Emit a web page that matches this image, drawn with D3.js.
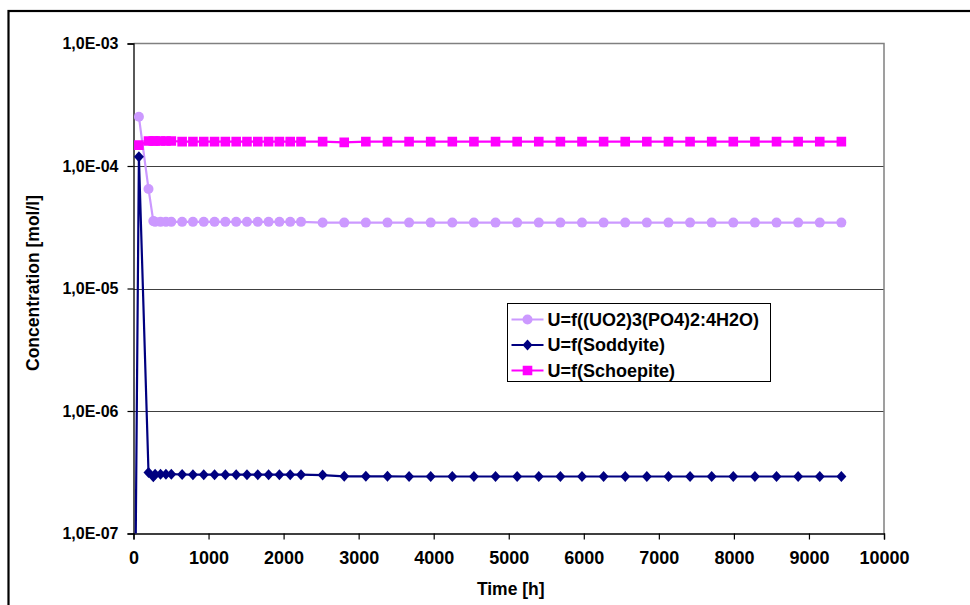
<!DOCTYPE html>
<html>
<head>
<meta charset="utf-8">
<script src="https://cdn.jsdelivr.net/npm/d3@7"></script>
<style>
  html, body { margin: 0; padding: 0; background: #fff; }
  svg { display: block; font-family: "Liberation Sans", Arial, sans-serif; }
</style>
</head>
<body>
<svg id="chart" width="970" height="605"></svg>
<script>
// Sampling times [h]
const times = [0, 72, 200, 264, 288, 360, 432, 504, 648, 792, 936, 1080, 1224, 1368, 1512, 1656,
  1800, 1944, 2088, 2232, 2520, 2808, 3096, 3384, 3672, 3960, 4248, 4536, 4824, 5112, 5400,
  5688, 5976, 6264, 6552, 6840, 7128, 7416, 7704, 7992, 8280, 8568, 8856, 9144, 9432];

// U concentration [mol/l] controlled by each solid phase
const uPhosphate = [null, 2.52e-4, 6.5e-5, 3.55e-5, 3.5e-5, 3.5e-5, 3.5e-5, 3.5e-5, 3.5e-5, 3.5e-5,
  3.5e-5, 3.5e-5, 3.5e-5, 3.5e-5, 3.5e-5, 3.5e-5, 3.5e-5, 3.5e-5, 3.5e-5, 3.5e-5, 3.45e-5,
  3.45e-5, 3.45e-5, 3.45e-5, 3.45e-5, 3.45e-5, 3.45e-5, 3.45e-5, 3.45e-5, 3.45e-5, 3.45e-5,
  3.45e-5, 3.45e-5, 3.45e-5, 3.45e-5, 3.45e-5, 3.45e-5, 3.45e-5, 3.45e-5, 3.45e-5, 3.45e-5,
  3.45e-5, 3.45e-5, 3.45e-5, 3.45e-5];
const uSoddyite = [6e-10, 1.19e-4, 3.15e-7, 2.9e-7, 3.05e-7, 3.05e-7, 3.05e-7, 3.05e-7, 3.03e-7, 3.02e-7,
  3.02e-7, 3.02e-7, 3.02e-7, 3.02e-7, 3.02e-7, 3.02e-7, 3.02e-7, 3.02e-7, 3.02e-7, 3.02e-7, 3.0e-7,
  2.93e-7, 2.93e-7, 2.93e-7, 2.92e-7, 2.92e-7, 2.92e-7, 2.92e-7, 2.92e-7, 2.92e-7, 2.92e-7,
  2.92e-7, 2.92e-7, 2.92e-7, 2.92e-7, 2.92e-7, 2.92e-7, 2.92e-7, 2.92e-7, 2.92e-7, 2.92e-7,
  2.92e-7, 2.92e-7, 2.92e-7, 2.92e-7];
const uSchoepite = [null, 1.48e-4, 1.6e-4, 1.6e-4, 1.6e-4, 1.6e-4, 1.6e-4, 1.6e-4, 1.58e-4, 1.58e-4,
  1.58e-4, 1.58e-4, 1.58e-4, 1.58e-4, 1.58e-4, 1.58e-4, 1.58e-4, 1.58e-4, 1.58e-4, 1.58e-4, 1.58e-4,
  1.56e-4, 1.58e-4, 1.58e-4, 1.58e-4, 1.58e-4, 1.58e-4, 1.58e-4, 1.58e-4, 1.58e-4, 1.58e-4,
  1.58e-4, 1.58e-4, 1.58e-4, 1.58e-4, 1.58e-4, 1.58e-4, 1.58e-4, 1.58e-4, 1.58e-4, 1.58e-4,
  1.58e-4, 1.58e-4, 1.58e-4, 1.58e-4];

const seriesNames = ["U=f((UO2)3(PO4)2:4H2O)", "U=f(Soddyite)", "U=f(Schoepite)"];
const seriesValues = [uPhosphate, uSoddyite, uSchoepite];
const seriesColors = ["#CC99FF", "#000080", "#FF00FF"];
const seriesMarkers = ["circle", "diamond", "square"];

const xTicks = [0, 1000, 2000, 3000, 4000, 5000, 6000, 7000, 8000, 9000, 10000];
const yTicks = [1e-7, 1e-6, 1e-5, 1e-4, 1e-3];
const yTickLabels = ["1,0E-07", "1,0E-06", "1,0E-05", "1,0E-04", "1,0E-03"];

const svg = d3.select("#chart");
const plot = { left: 133.5, top: 43.5, right: 884, bottom: 533.5 };

const x = d3.scaleLinear().domain([0, 10000]).range([plot.left, plot.right]);
const y = d3.scaleLog().domain([1e-7, 1e-3]).range([plot.bottom, plot.top]);

// Outer chart frame
svg.append("rect").attr("x", 8.5).attr("y", 11).attr("width", 1000).attr("height", 700)
  .attr("fill", "none").attr("stroke", "#000").attr("stroke-width", 2.2);

// Horizontal gridlines at each decade
svg.append("g").selectAll("line").data(yTicks.slice(1, -1)).join("line")
  .attr("x1", plot.left).attr("x2", plot.right)
  .attr("y1", d => Math.round(y(d)) + 0.5).attr("y2", d => Math.round(y(d)) + 0.5)
  .attr("stroke", "#404040").attr("stroke-width", 1.2);

// Plot area top and right border
svg.append("path")
  .attr("d", `M${plot.left},${plot.top}H${plot.right}V${plot.bottom}`)
  .attr("fill", "none").attr("stroke", "#808080").attr("stroke-width", 1.5);

// Y axis
const yAxis = svg.append("g").attr("transform", `translate(${plot.left},0)`)
  .call(d3.axisLeft(y).tickValues(yTicks).tickSize(6).tickPadding(9)
    .tickFormat((d, i) => yTickLabels[i]));
yAxis.select(".domain").attr("stroke", "#000").attr("stroke-width", 1.3);
yAxis.selectAll(".tick line").attr("stroke", "#000").attr("stroke-width", 1.2);
yAxis.selectAll(".tick text").attr("fill", "#000").attr("font-size", 16)
  .attr("font-weight", "bold").attr("font-family", "Liberation Sans, Arial, sans-serif");

// X axis
const xAxis = svg.append("g").attr("transform", `translate(0,${plot.bottom})`)
  .call(d3.axisBottom(x).tickValues(xTicks).tickSize(6).tickPadding(12).tickFormat(d3.format("d")));
xAxis.select(".domain").attr("stroke", "#000").attr("stroke-width", 1.3);
xAxis.selectAll(".tick line").attr("stroke", "#000").attr("stroke-width", 1.2);
xAxis.selectAll(".tick text").attr("fill", "#000").attr("font-size", 18)
  .attr("font-weight", "bold").attr("font-family", "Liberation Sans, Arial, sans-serif");

// Axis titles
svg.append("text").attr("x", x(5000) + 2).attr("y", 595).attr("text-anchor", "middle")
  .attr("font-size", 17.5).attr("font-weight", "bold").text("Time [h]");
svg.append("text").attr("transform", `translate(39,283) rotate(-90)`)
  .attr("text-anchor", "middle").attr("font-size", 17.5).attr("font-weight", "bold")
  .text("Concentration [mol/l]");

// Clip series to the plot area
svg.append("clipPath").attr("id", "plotClip").append("rect")
  .attr("x", plot.left).attr("y", plot.top)
  .attr("width", plot.right - plot.left + 10).attr("height", plot.bottom - plot.top);

function markerPath(kind, cx, cy) {
  if (kind === "circle") {
    return `M${cx - 5},${cy}a5,5 0 1,0 10,0a5,5 0 1,0 -10,0Z`;
  } else if (kind === "diamond") {
    return `M${cx},${cy - 5.5}L${cx + 5},${cy}L${cx},${cy + 5.5}L${cx - 5},${cy}Z`;
  }
  return `M${cx - 4.8},${cy - 4.8}h9.6v9.6h-9.6Z`;
}

const line = d3.line().defined(d => d.v != null).x(d => x(d.t)).y(d => y(d.v));
const seriesG = svg.append("g").attr("clip-path", "url(#plotClip)");

// Draw order: phosphate, schoepite, soddyite on top
[0, 2, 1].forEach(si => {
  const pts = times.map((t, i) => ({ t, v: seriesValues[si][i] }));
  seriesG.append("path").datum(pts).attr("d", line)
    .attr("fill", "none").attr("stroke", seriesColors[si]).attr("stroke-width", 2.2)
    .attr("stroke-linejoin", "round");
  seriesG.append("g").selectAll("path").data(pts.filter(p => p.v != null && p.v >= 1e-7)).join("path")
    .attr("d", p => markerPath(seriesMarkers[si], x(p.t), y(p.v)))
    .attr("fill", seriesColors[si]);
});

// Legend
const lg = svg.append("g").attr("transform", "translate(507.5,303.5)");
lg.append("rect").attr("width", 263).attr("height", 78)
  .attr("fill", "#fff").attr("stroke", "#000").attr("stroke-width", 1);
seriesNames.forEach((name, i) => {
  const cy = 16 + i * 25.5;
  lg.append("line").attr("x1", 4).attr("x2", 36).attr("y1", cy).attr("y2", cy)
    .attr("stroke", seriesColors[i]).attr("stroke-width", 2.2);
  lg.append("path").attr("d", markerPath(seriesMarkers[i], 20, cy)).attr("fill", seriesColors[i]);
  lg.append("text").attr("x", 40).attr("y", cy).attr("dy", "0.36em")
    .attr("font-size", 18).attr("font-weight", "bold").text(name);
});
</script>
</body>
</html>
